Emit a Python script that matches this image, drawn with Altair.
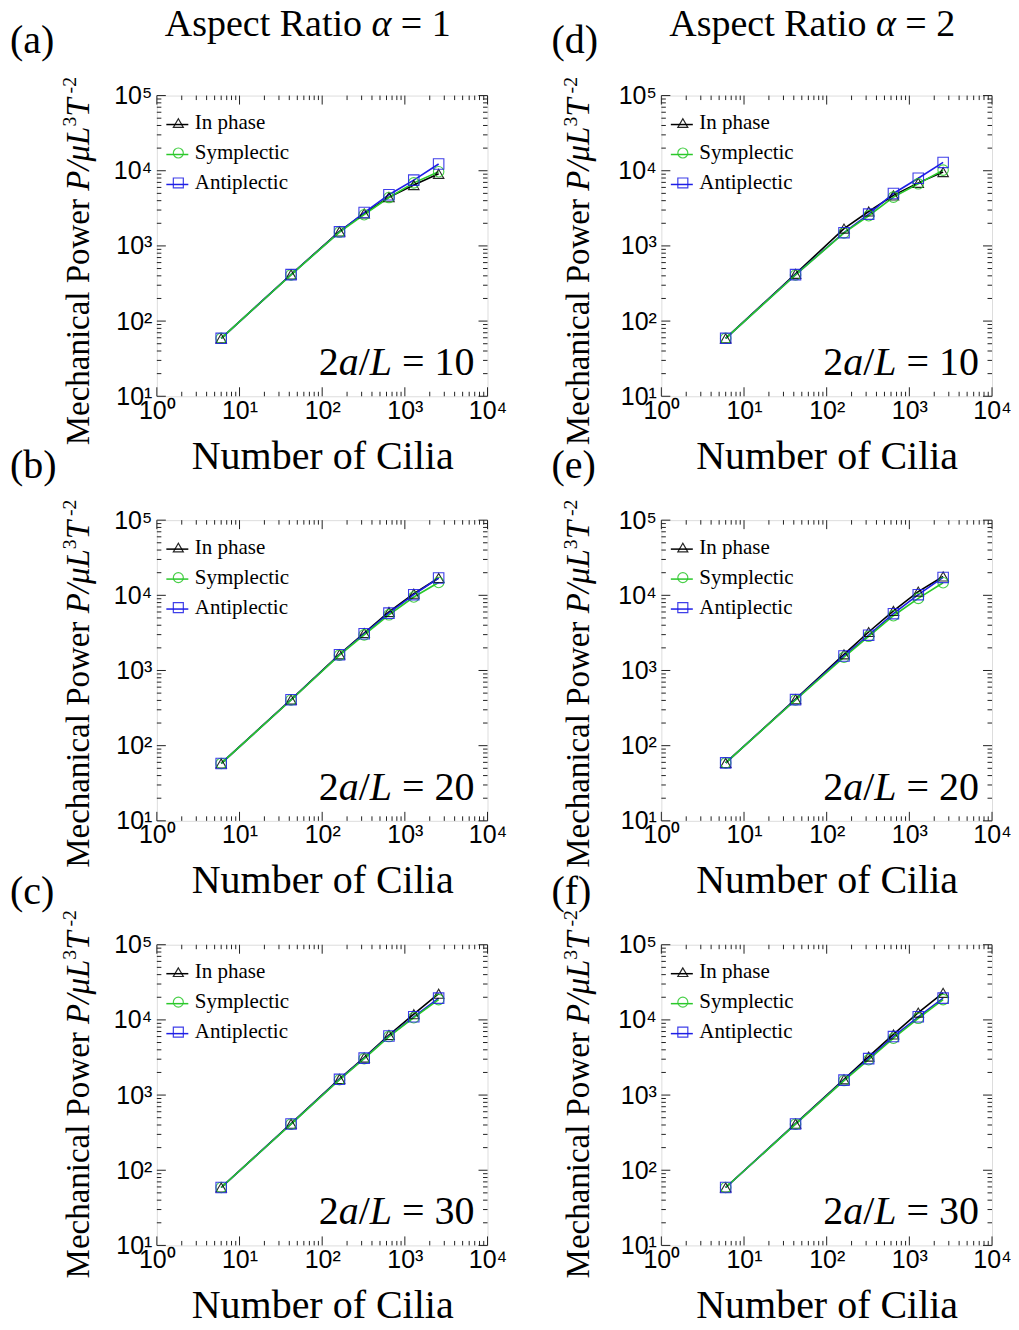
import altair as alt
import pandas as pd

# ---------------- data ----------------
N_CILIA = [6, 42, 162, 322, 642, 1282, 2562]
SERIES = ["In phase", "Symplectic", "Antiplectic"]
COLORS = ["#000000", "#2ac82a", "#1e1ee6"]
SHAPES = ["triangle-up", "circle", "square"]

# (a) alpha = 1, 2a/L = 10
A_IP = [59, 417, 1560, 2700, 4450, 6450, 9100]
A_SY = [59, 412, 1530, 2600, 4400, 6900, 9700]
A_AN = [59, 415, 1540, 2780, 4800, 7500, 12300]
# (b) alpha = 1, 2a/L = 20
B_IP = [58, 410, 1640, 3150, 6000, 10500, 17000]
B_SY = [58, 405, 1600, 2980, 5500, 9500, 14800]
B_AN = [58, 408, 1620, 3080, 5800, 10200, 17000]
# (c) alpha = 1, 2a/L = 30
C_IP = [59, 416, 1640, 3150, 6300, 11900, 22300]
C_SY = [59, 410, 1600, 3050, 6000, 10700, 18600]
C_AN = [59, 413, 1620, 3100, 6100, 11000, 19500]
# (d) alpha = 2, 2a/L = 10
D_IP = [59, 425, 1700, 2870, 4700, 6900, 9600]
D_SY = [59, 410, 1490, 2520, 4460, 6700, 10200]
D_AN = [59, 415, 1500, 2650, 4980, 7950, 12900]
# (e) alpha = 2, 2a/L = 20
E_IP = [59, 415, 1640, 3250, 6200, 11200, 17800]
E_SY = [59, 405, 1500, 2850, 5350, 9100, 14700]
E_AN = [59, 410, 1560, 2950, 5700, 10200, 17300]
# (f) alpha = 2, 2a/L = 30
F_IP = [59, 416, 1620, 3250, 6400, 12500, 22900]
F_SY = [59, 410, 1560, 2950, 5700, 10500, 18600]
F_AN = [59, 413, 1580, 3050, 6000, 11000, 19500]

X_MAJOR = [1, 10, 100, 1000, 10000]
Y_MAJOR = [10, 100, 1000, 10000, 100000]
MINOR = [2, 3, 4, 5, 6, 7, 8, 9]

# ---------------- layout ----------------
W, H = 331, 301
SERIF = "Liberation Serif"
SANS = "Liberation Sans"

W_REG = {" ": 250, "(": 333, ")": 333, "/": 278, "=": 564, "-": 333,
         "A": 722, "C": 667, "L": 611, "M": 889, "N": 722, "P": 556, "R": 667, "T": 611,
         "a": 444, "b": 500, "c": 444, "d": 500, "e": 444, "f": 333, "h": 500, "i": 278,
         "l": 278, "m": 778, "n": 500, "o": 500, "p": 500, "r": 333, "s": 389, "t": 278,
         "u": 500, "w": 722}
W_IT = {" ": 250, "a": 500, "L": 556, "P": 611, "T": 556, "/": 278, "μ": 500, "α": 520}


def tw(s, size, italic=False):
    tbl = W_IT if italic else W_REG
    return sum(tbl.get(ch, 500) for ch in s) / 1000.0 * size


def txt(s, x, y, size, italic=False, angle=0, align="left", baseline="alphabetic", font=SERIF):
    kw = dict(font=font, fontSize=size, fontStyle="italic" if italic else "normal",
              align=align, baseline=baseline, color="black")
    if angle:
        kw["angle"] = angle
    return alt.Chart(pd.DataFrame({"t": [s]})).mark_text(**kw).encode(
        x=alt.value(x), y=alt.value(y), text="t:N")


def split_lead(s):
    body = s.lstrip(" ")
    return s[: len(s) - len(body)], body


def run_h(pieces, x0, y, size):
    out, x = [], x0
    for s, it, sc, rise in pieces:
        fs = size * sc
        lead, body = split_lead(s)
        x += tw(lead, fs, it)
        out.append(txt(body, x, y - rise * size, fs, it))
        x += tw(body, fs, it)
    return out


def run_v(pieces, x, y0, size):
    out, y = [], y0
    for s, it, sc, rise in pieces:
        fs = size * sc
        lead, body = split_lead(s)
        y -= tw(lead, fs, it)
        out.append(txt(body, x - rise * size, y, fs, it, angle=270))
        y -= tw(body, fs, it)
    return out


SUP = "['⁰','¹','²','³','⁴','⁵'][round(log(datum.value)/LN10)]"
XS = alt.Scale(type="log", domain=[1, 10000], nice=False)
YS = alt.Scale(type="log", domain=[10, 100000], nice=False)
XAXIS = alt.Axis(values=X_MAJOR, labelExpr="'10' + " + SUP, title="Number of Cilia",
                 titleFont=SERIF, titleFontSize=40, titleFontWeight="normal", titleColor="black",
                 titlePadding=13, labelFont=SANS, labelFontSize=25, labelColor="black",
                 labelPadding=2, labelFlush=False, ticks=False, domain=False, grid=False)
YAXIS = alt.Axis(values=Y_MAJOR, labelExpr="'10' + " + SUP, title=None,
                 labelFont=SANS, labelFontSize=25, labelColor="black",
                 labelPadding=5, labelFlush=False, ticks=False, domain=False, grid=False)

LKEYS = [s + " line" for s in SERIES]
LEG_Y = 17
ROWPAD = 8


def tick_layers():
    out = []
    xmin = [m * 10 ** k for k in range(0, 4) for m in MINOR]
    ymin = [m * 10 ** k for k in range(1, 5) for m in MINOR]
    for vals, ln in ((X_MAJOR, 9), (xmin, 4.5)):
        d = pd.DataFrame({"N": vals})
        for y1, y2 in ((H, H - ln), (0, ln)):
            out.append(alt.Chart(d).mark_rule(color="#222222", strokeWidth=1).encode(
                x=alt.X("N:Q", scale=XS, axis=XAXIS), y=alt.value(y1), y2=alt.value(y2)))
    for vals, ln in ((Y_MAJOR, 9), (ymin, 4.5)):
        d = pd.DataFrame({"P": vals})
        for x1, x2 in ((0, ln), (W, W - ln)):
            out.append(alt.Chart(d).mark_rule(color="#222222", strokeWidth=1).encode(
                y=alt.Y("P:Q", scale=YS, axis=YAXIS), x=alt.value(x1), x2=alt.value(x2)))
    return out


def panel(tag, alpha, ratio, ip, sy, an, col, row):
    df = pd.DataFrame({
        "N": N_CILIA * 3,
        "P": ip + sy + an,
        "series": [s for s in SERIES for _ in N_CILIA],
    })
    df["lkey"] = df["series"] + " line"

    line_leg = alt.Legend(title=None, orient="none", legendX=8.5, legendY=LEG_Y,
                          symbolType="stroke", symbolSize=484, symbolStrokeWidth=1.5,
                          labelExpr="' '", labelFont=SERIF, labelFontSize=21,
                          rowPadding=ROWPAD, padding=0, offset=0)
    sym_leg = alt.Legend(title=None, orient="none", legendX=11, legendY=LEG_Y,
                         symbolSize=100, symbolStrokeWidth=1.2,
                         labelFont=SERIF, labelFontSize=21, labelColor="black",
                         labelOffset=6, rowPadding=ROWPAD, padding=0, offset=0)

    layers = []
    for s in ["In phase", "Antiplectic", "Symplectic"]:
        layers.append(alt.Chart(df).transform_filter(alt.datum.series == s).mark_line(
            strokeWidth=1.6).encode(
            x=alt.X("N:Q", scale=XS, axis=XAXIS),
            y=alt.Y("P:Q", scale=YS, axis=YAXIS),
            color=alt.Color("lkey:N", scale=alt.Scale(domain=LKEYS, range=COLORS), legend=line_leg)))
    layers.append(alt.Chart(df).mark_point(filled=False, size=110, strokeWidth=1.1, opacity=0.85).encode(
        x=alt.X("N:Q", scale=XS, axis=XAXIS),
        y=alt.Y("P:Q", scale=YS, axis=YAXIS),
        stroke=alt.Stroke("series:N", scale=alt.Scale(domain=SERIES, range=COLORS), legend=sym_leg),
        shape=alt.Shape("series:N", scale=alt.Scale(domain=SERIES, range=SHAPES), legend=sym_leg)))
    layers += tick_layers()

    # 2a/L = value
    size = 40
    pieces = [("2", False, 1, 0), ("a", True, 1, 0), ("/", False, 1, 0), ("L", True, 1, 0),
              (" = " + ratio, False, 1, 0)]
    total = sum(tw(s, size * sc, it) for s, it, sc, _ in pieces)
    layers += run_h(pieces, 318 - total, 280, size)

    # panel tag
    tag_x = -147 if col == 0 else -110
    tag_y = [-43, -42, -41][row]
    layers.append(txt(tag, tag_x, tag_y, 40))

    # column title
    if row == 0:
        layers += run_h([("Aspect Ratio ", False, 1, 0), ("α", True, 1, 0), (" = " + alpha, False, 1, 0)],
                        8, -60, 38)

    # y-axis title
    yx = -68 if col == 0 else -72
    y0 = [350, 348, 334][row]
    layers += run_v([("Mechanical Power ", False, 1, 0), ("P/μL", True, 1, 0), ("3", False, 0.6, 0.38),
                     ("T", True, 1, 0), (" -2", False, 0.6, 0.38)], yx, y0, 33)

    return alt.layer(*layers).properties(width=W, height=H)


panels = [
    panel("(a)", "1", "10", A_IP, A_SY, A_AN, 0, 0),
    panel("(d)", "2", "10", D_IP, D_SY, D_AN, 1, 0),
    panel("(b)", "1", "20", B_IP, B_SY, B_AN, 0, 1),
    panel("(e)", "2", "20", E_IP, E_SY, E_AN, 1, 1),
    panel("(c)", "1", "30", C_IP, C_SY, C_AN, 0, 2),
    panel("(f)", "2", "30", F_IP, F_SY, F_AN, 1, 2),
]

chart = alt.concat(*panels, columns=2, spacing={"row": 124, "column": 174}, bounds="flush").resolve_scale(
    color="independent", stroke="independent", shape="independent", x="independent", y="independent"
).resolve_legend(
    color="independent", stroke="independent", shape="independent"
).properties(
    padding={"left": 1, "top": -4, "right": -1, "bottom": -8}
).configure_view(stroke="black", strokeWidth=1.5).configure(background="white")

chart.save("out.html", embed_options={"renderer": "svg", "actions": False})
